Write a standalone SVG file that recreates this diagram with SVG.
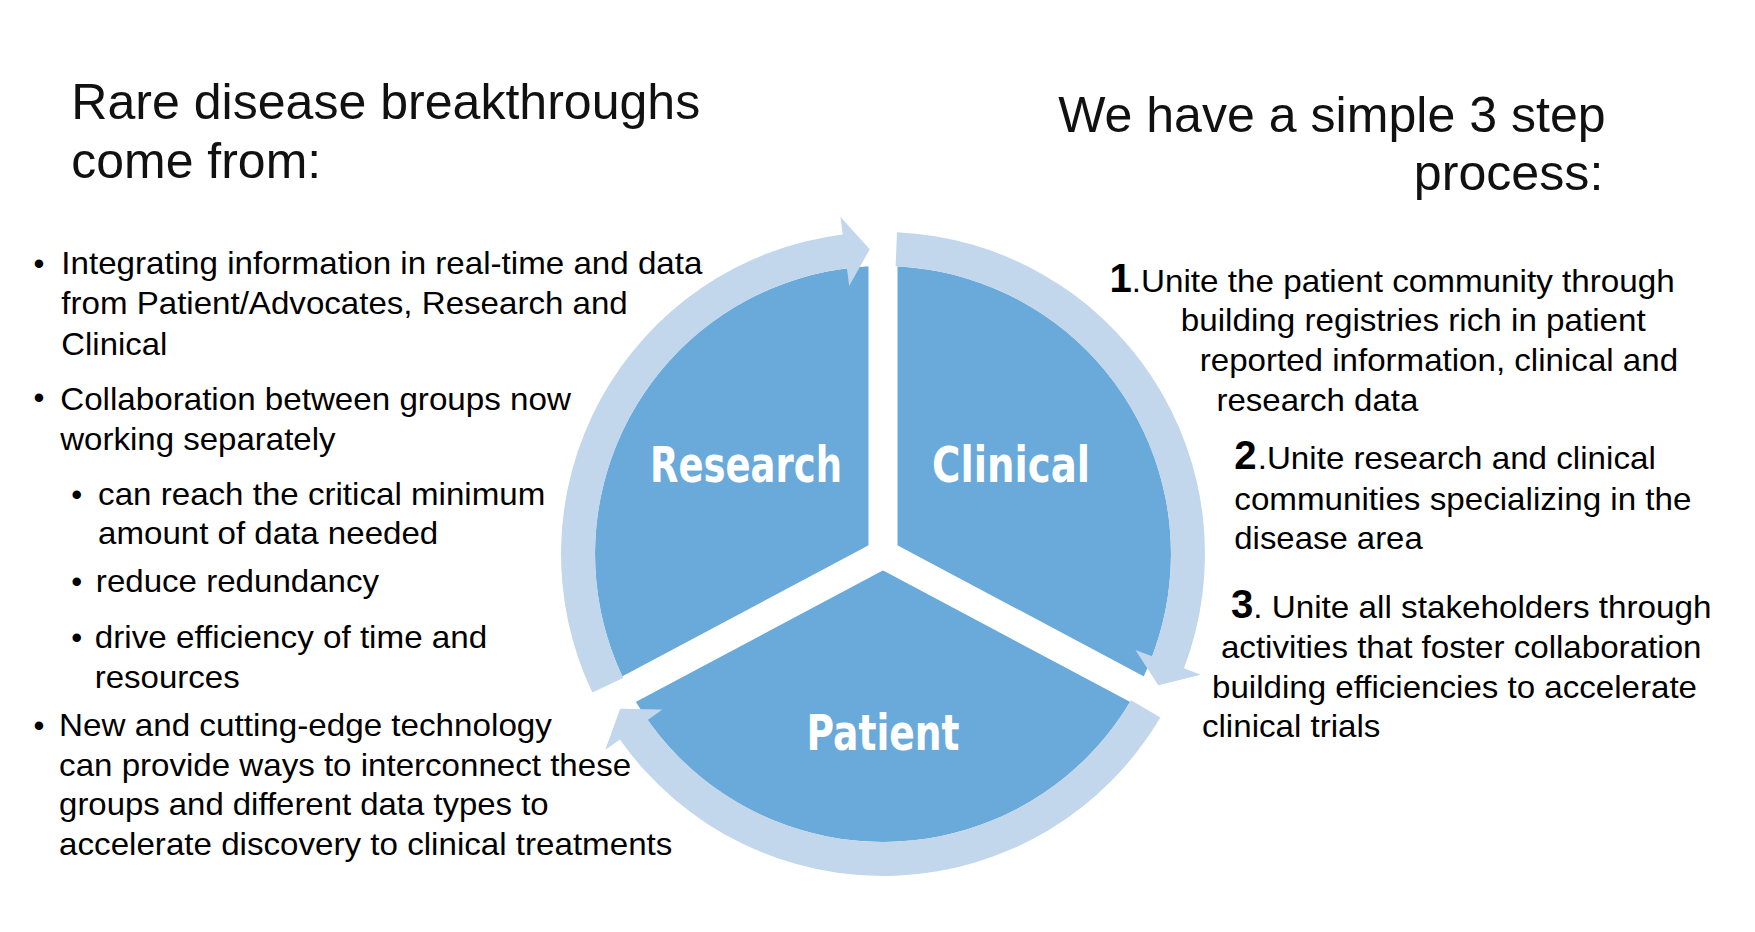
<svg xmlns="http://www.w3.org/2000/svg" width="1755" height="932" viewBox="0 0 1755 932">
<style>
.t{font-family:"Liberation Sans",Arial,sans-serif;fill:#000;font-size:28px}
.h{font-family:"Liberation Sans",Arial,sans-serif;fill:#111;font-size:45px}
.n{font-family:"Liberation Sans",Arial,sans-serif;font-weight:bold;font-size:36px}
.lbl{font-family:"DejaVu Sans",Verdana,sans-serif;font-weight:bold;font-size:50px;fill:#fff;text-anchor:middle}
.ring{fill:#c2d6ec}
.sep{stroke:#fff;stroke-width:29;stroke-linecap:butt}
</style>
<rect width="1755" height="932" fill="#fff"/>
<g id="cycle">
  <circle cx="883" cy="554" r="288" fill="#6aaadb"/>
  <g id="separators">
    <line class="sep" x1="883" y1="554" x2="883" y2="200"/>
    <line class="sep" x1="883" y1="554" x2="1195" y2="720"/>
    <line class="sep" x1="883" y1="554" x2="571" y2="720"/>
    <circle cx="883" cy="554" r="14" fill="#fff"/>
  </g>
  <g id="connectors">
    <path class="ring" d="M592.4,692.6 A322,322 0 0 1 842.7,234.5 L840.4,216.7 L869.7,249.3 L849.2,286.1 L846.9,268.3 A288,288 0 0 0 623.1,678 Z"/>
    <path class="ring" d="M897,232.3 A322,322 0 0 1 1184,668.3 L1200.8,674.7 L1158.3,685.3 L1135.4,649.9 L1152.2,656.3 A288,288 0 0 0 895.6,266.3 Z"/>
    <path class="ring" d="M1160.4,717.4 A322,322 0 0 1 619.9,739.6 L605.2,750 L620.2,708.8 L662.4,709.6 L647.7,720 A288,288 0 0 0 1131.1,700.2 Z"/>
  </g>
  <g id="node-research"><text class="lbl" x="746" y="482" textLength="192" lengthAdjust="spacingAndGlyphs">Research</text></g>
  <g id="node-clinical"><text class="lbl" x="1011" y="482" textLength="158" lengthAdjust="spacingAndGlyphs">Clinical</text></g>
  <g id="node-patient"><text class="lbl" x="883" y="750" textLength="153" lengthAdjust="spacingAndGlyphs">Patient</text></g>
</g>
<g id="text" transform="scale(1.115)">
  <text class="h" x="64" y="107" textLength="564" lengthAdjust="spacingAndGlyphs">Rare disease breakthroughs</text>
  <text class="h" x="64" y="160" textLength="224" lengthAdjust="spacingAndGlyphs">come from:</text>
  <text class="h" x="949" y="118" textLength="491" lengthAdjust="spacingAndGlyphs">We have a simple 3 step</text>
  <text class="h" x="1438" y="170" text-anchor="end">process:</text>

  <text class="t" x="30" y="246">•</text>
  <text class="t" x="55" y="246" textLength="575" lengthAdjust="spacingAndGlyphs">Integrating information in real-time and data</text>
  <text class="t" x="55" y="282" textLength="508" lengthAdjust="spacingAndGlyphs">from Patient/Advocates, Research and</text>
  <text class="t" x="55" y="318" textLength="95" lengthAdjust="spacingAndGlyphs">Clinical</text>
  <text class="t" x="30" y="366">•</text>
  <text class="t" x="54" y="368" textLength="458" lengthAdjust="spacingAndGlyphs">Collaboration between groups now</text>
  <text class="t" x="54" y="404" textLength="247" lengthAdjust="spacingAndGlyphs">working separately</text>
  <text class="t" x="64" y="453">•</text>
  <text class="t" x="88" y="453" textLength="401" lengthAdjust="spacingAndGlyphs">can reach the critical minimum</text>
  <text class="t" x="88" y="488" textLength="305" lengthAdjust="spacingAndGlyphs">amount of data needed</text>
  <text class="t" x="64" y="531">•</text>
  <text class="t" x="86" y="531" textLength="254" lengthAdjust="spacingAndGlyphs">reduce redundancy</text>
  <text class="t" x="64" y="581">•</text>
  <text class="t" x="85" y="581" textLength="352" lengthAdjust="spacingAndGlyphs">drive efficiency of time and</text>
  <text class="t" x="85" y="617" textLength="130" lengthAdjust="spacingAndGlyphs">resources</text>
  <text class="t" x="30" y="660">•</text>
  <text class="t" x="53" y="660" textLength="442" lengthAdjust="spacingAndGlyphs">New and cutting-edge technology</text>
  <text class="t" x="53" y="696" textLength="513" lengthAdjust="spacingAndGlyphs">can provide ways to interconnect these</text>
  <text class="t" x="53" y="731" textLength="439" lengthAdjust="spacingAndGlyphs">groups and different data types to</text>
  <text class="t" x="53" y="767" textLength="550" lengthAdjust="spacingAndGlyphs">accelerate discovery to clinical treatments</text>

  <text class="n" x="995" y="262">1</text>
  <text class="t" x="1015" y="262" textLength="487" lengthAdjust="spacingAndGlyphs">.Unite the patient community through</text>
  <text class="t" x="1059" y="297" textLength="417" lengthAdjust="spacingAndGlyphs">building registries rich in patient</text>
  <text class="t" x="1076" y="333" textLength="429" lengthAdjust="spacingAndGlyphs">reported information, clinical and</text>
  <text class="t" x="1091" y="369" textLength="181" lengthAdjust="spacingAndGlyphs">research data</text>
  <text class="n" x="1107" y="421">2</text>
  <text class="t" x="1128" y="421" textLength="357" lengthAdjust="spacingAndGlyphs">.Unite research and clinical</text>
  <text class="t" x="1107" y="457" textLength="410" lengthAdjust="spacingAndGlyphs">communities specializing in the</text>
  <text class="t" x="1107" y="492" textLength="169" lengthAdjust="spacingAndGlyphs">disease area</text>
  <text class="n" x="1104" y="554">3</text>
  <text class="t" x="1124" y="554" textLength="411" lengthAdjust="spacingAndGlyphs">. Unite all stakeholders through</text>
  <text class="t" x="1095" y="590" textLength="431" lengthAdjust="spacingAndGlyphs">activities that foster collaboration</text>
  <text class="t" x="1087" y="626" textLength="435" lengthAdjust="spacingAndGlyphs">building efficiencies to accelerate</text>
  <text class="t" x="1078" y="661" textLength="160" lengthAdjust="spacingAndGlyphs">clinical trials</text>
</g>
</svg>
